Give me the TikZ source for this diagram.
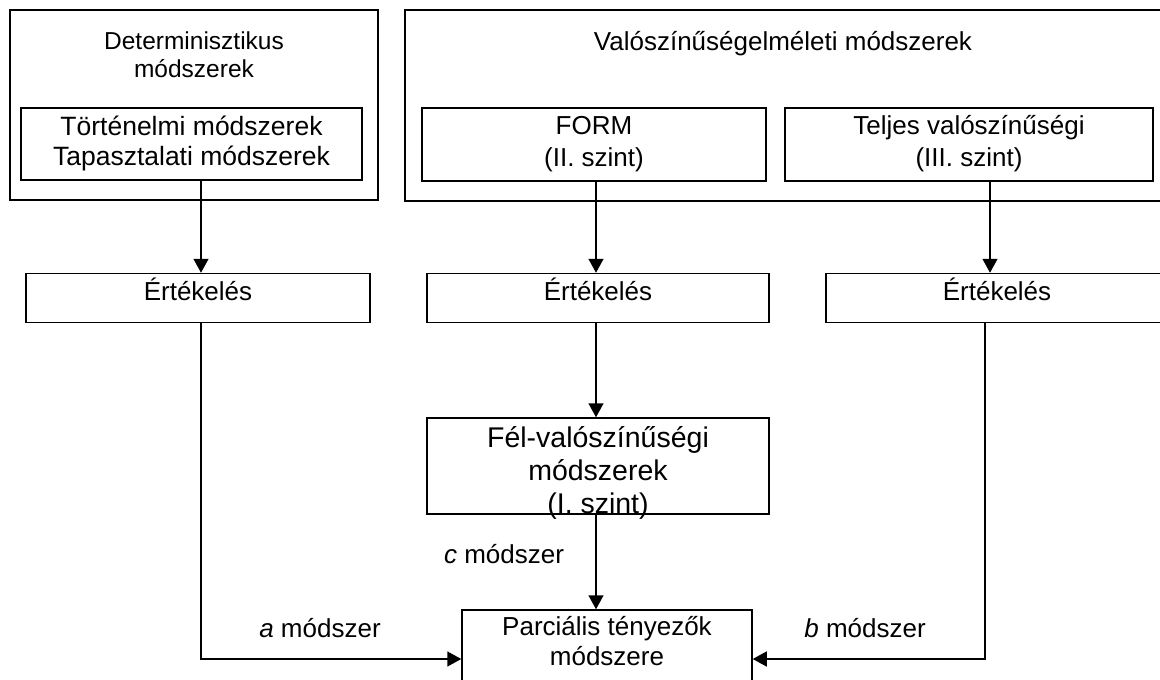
\documentclass[tikz,border=0pt]{standalone}
\usepackage{fontspec}
\setmainfont{Liberation Sans}
\usetikzlibrary{arrows.meta}
\newcommand\fsz[2]{\fontsize{#1pt}{#2pt}\selectfont}
\tikzset{
  boxnode/.style={draw, line width=1.5pt, inner sep=0pt, anchor=center},
  txt/.style={inner sep=0pt, align=center, font=\fsz{26}{30}},
  conn/.style={line width=1.5pt, -{Triangle[length=14pt 0,width=15pt 0]}},
}
\begin{document}
\begin{tikzpicture}[x=1pt,y=-1pt]
\useasboundingbox (0,0) rectangle (1160,680);
\fill[white] (0,0) rectangle (1160,680);
\clip (0,0) rectangle (1160,680);

% containers
\node[boxnode, minimum width=368pt, minimum height=190pt] (D) at (194,105) {};
\node[txt, font=\fsz{24.5}{28}] (Dt) at (194,54.5) {Determinisztikus\\módszerek};
\node[boxnode, minimum width=775pt, minimum height=191pt] (V) at (792.5,105.5) {};
\node[txt, anchor=base] (Vt) at (783,50) {Valószínűségelméleti módszerek};

% inner boxes
\node[boxnode, minimum width=341pt, minimum height=72pt] (TM) at (191.5,144) {};
\node[txt, font=\fsz{26.5}{30}] (TMt) at (191.5,143.5) {Történelmi módszerek\\Tapasztalati módszerek};
\node[boxnode, minimum width=344pt, minimum height=73pt] (FORM) at (594,144.5) {};
\node[txt, font=\fsz{26}{32}] (FORMt) at (594,144) {FORM\\(II. szint)};
\node[boxnode, minimum width=368pt, minimum height=73pt] (TV) at (969,144.5) {};
\node[txt, font=\fsz{26}{32}] (TVt) at (969,144) {Teljes valószínűségi\\(III. szint)};

% evaluation boxes
\node[boxnode, minimum width=344pt, minimum height=49pt] (E1) at (198,298) {};
\node[txt, anchor=base] (E1t) at (198,300.5) {Értékelés};
\node[boxnode, minimum width=342pt, minimum height=49pt] (E2) at (598,298) {};
\node[txt, anchor=base] (E2t) at (598,300.5) {Értékelés};
\node[boxnode, minimum width=342pt, minimum height=49pt] (E3) at (997,298) {};
\node[txt, anchor=base] (E3t) at (997,300.5) {Értékelés};

% semi-probabilistic
\node[boxnode, minimum width=342pt, minimum height=96pt] (F) at (598,466) {};
\node[txt, font=\fsz{28.5}{33}] (Ft) at (598,472.5) {Fél-valószínűségi\\módszerek\\(I. szint)};

% partial factors
\node[boxnode, minimum width=290pt, minimum height=98pt] (P) at (607,659) {};
\node[txt] (Pt) at (607,641.5) {Parciális tényezők\\módszere};

% column positions
\coordinate (xa) at (201,0);
\coordinate (xm) at (596,0);
\coordinate (xt) at (990,0);
\coordinate (xb) at (985,0);

% connectors
\draw[conn] (TM.south -| xa) -- (E1.north -| xa);
\draw[conn] (FORM.south -| xm) -- (E2.north -| xm);
\draw[conn] (TV.south -| xt) -- (E3.north -| xt);
\draw[conn] (E2.south -| xm) -- (F.north -| xm);
\draw[conn] (F.south -| xm) -- (P.north -| xm);
\draw[conn] (E1.south -| xa) |- (P.west);
\draw[conn] (E3.south -| xb) |- (P.east);

% connector labels
\node[txt, anchor=base] (lc) at (504,563) {\textit{c} módszer};
\node[txt, anchor=base] (la) at (320,637) {\textit{a} módszer};
\node[txt, anchor=base] (lb) at (865,637) {\textit{b} módszer};
\end{tikzpicture}
\end{document}
